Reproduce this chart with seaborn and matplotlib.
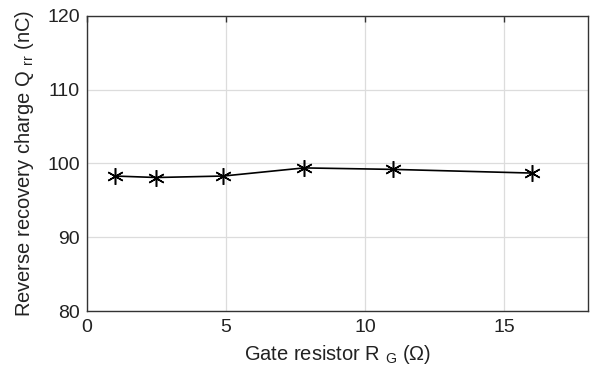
import numpy as np
import pandas as pd
import matplotlib
matplotlib.use("Agg")
import matplotlib.pyplot as plt
import seaborn as sns

# data
gate_resistor = [1.0, 2.5, 4.9, 7.8, 11.0, 16.0]
qrr = [98.3, 98.1, 98.3, 99.4, 99.2, 98.7]
x_ticks = [0, 5, 10, 15]
y_ticks = [80, 90, 100, 110, 120]

df = pd.DataFrame({"rg": gate_resistor, "qrr": qrr})

sns.set_style("white")
plt.rcParams["font.family"] = ["Liberation Sans", "DejaVu Sans"]
plt.rcParams["mathtext.fontset"] = "custom"
plt.rcParams["mathtext.rm"] = "Liberation Sans"
plt.rcParams["mathtext.it"] = "Liberation Sans"

fig = plt.figure(figsize=(5.95, 3.78), dpi=100)
ax = fig.add_axes([0.146, 0.177, 0.842, 0.781])

sns.lineplot(data=df, x="rg", y="qrr", ax=ax, color="black", linewidth=1.2,
             marker=(6, 2, 0), markersize=12, markeredgewidth=1.1,
             markeredgecolor="black")

ax.set_xlim(0, 18)
ax.set_ylim(80, 120)
ax.set_xticks(x_ticks)
ax.set_yticks(y_ticks)
ax.grid(True, color="#dcdcdc", linewidth=0.9)
ax.set_axisbelow(True)

for s in ax.spines.values():
    s.set_color("#333333")
    s.set_linewidth(1.0)
    s.set_visible(True)

ax.tick_params(direction="in", length=4, width=1.0, color="#333333",
               labelsize=14, top=True, right=False, labelcolor="#222222")
ax.tick_params(axis="x", pad=6)
ax.tick_params(axis="y", pad=5)

ax.set_xlabel(r"Gate resistor R $_{\rm G}$ ($\Omega$)", fontsize=14.5,
              color="#222222", labelpad=5)
ax.set_ylabel(r"Reverse recovery charge Q $_{\rm rr}$ (nC)", fontsize=14.5,
              color="#222222", labelpad=8)

fig.savefig("out.png", dpi=100)
